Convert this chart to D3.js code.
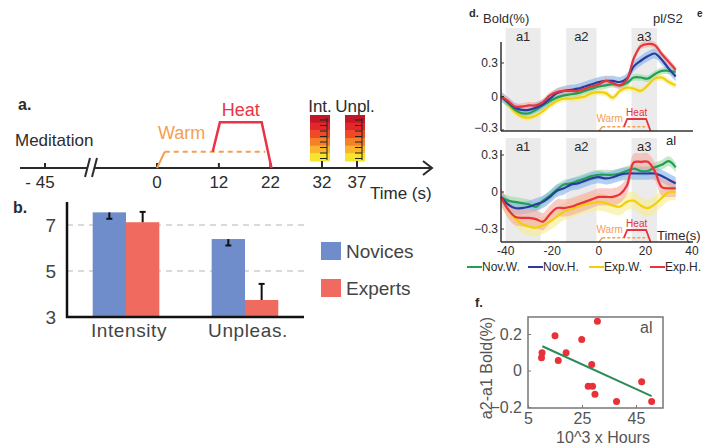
<!DOCTYPE html>
<html>
<head>
<meta charset="utf-8">
<script src="https://cdn.jsdelivr.net/npm/d3@7"></script>
<style>
body { margin: 0; background: #fff; }
svg { display: block; font-family: "Liberation Sans", Arial, sans-serif; }
</style>
</head>
<body>
<div id="chart"></div>
<script>
// ---- panel a: protocol timeline
const protoTicks = [-45, 0, 12, 22, 32, 37];
const protoTickLabels = ["- 45", "0", "12", "22", "32", "37"];
const warmT = [0, 1.5, 21];
const warmLevel = [0, 1, 1];
const heatT = [10.8, 12.2, 20.3, 22.2];
const heatLevel = [1, 2.8, 2.8, 0];
const ratingT = [32, 37];
const ratingNames = ["Int.", "Unpl."];
const ratingColors = ["#c01828", "#e4262b", "#ef4a25", "#f6802a", "#fab52d", "#f6e52b"];

// ---- panel b: ratings
const ratingCats = ["Intensity", "Unpleas."];
const groups = ["Novices", "Experts"];
const novicesMean = [7.55, 6.39];
const expertsMean = [7.12, 3.74];
const novicesErr = [0.28, 0.28];
const expertsErr = [0.45, 0.7];
const yTicksB = [3, 5, 7];

// ---- panel d: time courses (pl/S2 on top, al below)
const tSec = [-42, -39, -36, -33, -30, -27, -24, -21, -18, -15, -12, -9, -6, -3, 0, 3, 6, 9, 12, 15, 18, 21, 24, 27, 30, 33];
const seriesNames = ["Nov.W.", "Nov.H.", "Exp.W.", "Exp.H."];
const plNovW = [0, -0.06, -0.12, -0.15, -0.15, -0.12, -0.08, -0.04, -0.01, 0.01, 0.02, 0.03, 0.05, 0.07, 0.09, 0.1, 0.11, 0.1, 0.12, 0.17, 0.17, 0.16, 0.2, 0.23, 0.23, 0.22];
const plNovH = [0, -0.05, -0.1, -0.12, -0.12, -0.1, -0.07, -0.02, 0.03, 0.05, 0.06, 0.07, 0.09, 0.11, 0.13, 0.14, 0.14, 0.13, 0.16, 0.27, 0.32, 0.36, 0.385, 0.33, 0.25, 0.18];
const plExpW = [0, -0.07, -0.14, -0.18, -0.19, -0.17, -0.13, -0.08, -0.04, -0.02, -0.02, -0.01, 0, 0.03, 0.04, 0.03, -0.01, 0.05, 0.08, 0.07, 0.05, 0.1, 0.16, 0.17, 0.13, 0.1];
const plExpH = [0, -0.04, -0.09, -0.09, -0.08, -0.08, -0.05, 0.01, 0.04, 0.05, 0.05, 0.05, 0.07, 0.09, 0.11, 0.14, 0.12, 0.1, 0.15, 0.34, 0.45, 0.47, 0.46, 0.38, 0.31, 0.24];
const alNovW = [-0.04, -0.07, -0.08, -0.09, -0.1, -0.12, -0.07, -0.03, 0.02, 0.06, 0.07, 0.09, 0.11, 0.13, 0.14, 0.14, 0.14, 0.15, 0.17, 0.19, 0.17, 0.17, 0.2, 0.22, 0.25, 0.2];
const alNovH = [-0.04, -0.1, -0.13, -0.13, -0.12, -0.1, -0.08, -0.04, 0.01, 0.03, 0.06, 0.07, 0.09, 0.11, 0.12, 0.11, 0.12, 0.14, 0.15, 0.15, 0.15, 0.15, 0.15, 0.13, 0.1, 0.07];
const alExpW = [-0.04, -0.14, -0.21, -0.26, -0.28, -0.29, -0.27, -0.24, -0.2, -0.16, -0.14, -0.12, -0.1, -0.09, -0.08, -0.09, -0.11, -0.12, -0.08, -0.07, -0.11, -0.13, -0.1, -0.05, 0, 0];
const alExpH = [-0.04, -0.14, -0.2, -0.21, -0.21, -0.22, -0.24, -0.18, -0.13, -0.13, -0.12, -0.1, -0.08, -0.06, -0.04, -0.04, -0.04, -0.02, 0.05, 0.24, 0.245, 0.245, 0.17, 0.04, 0.03, 0.03];
const plBand = [0.03, 0.045, 0.03, 0.03];
const alBand = [0.04, 0.05, 0.07, 0.07];
const windowNames = ["a1", "a2", "a3"];
const windowStart = [-40, -14, 14];
const windowEnd = [-25, -1, 25];
const dYTicks = [-0.3, 0, 0.3];
const dXTicks = [-40, -20, 0, 20, 40];

// ---- panel f: correlation with practice hours
const hours = [10.2, 10, 15, 16.2, 19.1, 24.9, 28.6, 30.7, 27.3, 28.9, 29.8, 37.8, 47.1, 50.8];
const deltaBold = [0.097, 0.07, 0.19, 0.055, 0.097, 0.17, 0.033, 0.27, -0.086, -0.086, -0.13, -0.17, -0.062, -0.17];
const fitHours = [10.3, 50.8];
const fitBold = [0.133, -0.14];
const fXTicks = [5, 25, 45];
const fYTicks = [-0.2, 0, 0.2];

const lineColors = ["#22a052", "#2b3a9c", "#f2cf0a", "#e8323c"];
const bandColors = ["#9fd8a8", "#7fb3ea", "#f7ec8c", "#f4aaa2"];
const ink = "#2b2b2b";

const svg = d3.select("#chart").append("svg")
    .attr("width", 705)
    .attr("height", 448);
svg.append("rect").attr("width", 705).attr("height", 448).attr("fill", "#fff");

// =============== panel a
const xA = d3.scaleLinear().domain([-45, 0, 32, 37]).range([45, 157, 322, 357]);
const lvA = d3.scaleLinear().domain([0, 1]).range([168, 151.7]);
const gA = svg.append("g").attr("fill", ink);

gA.append("text").attr("x", 18).attr("y", 110).attr("font-size", 16).attr("font-weight", "bold").text("a.");
gA.append("text").attr("x", 15).attr("y", 146).attr("font-size", 17).text("Meditation");

// axis with a break
gA.append("line").attr("x1", 20).attr("x2", 87).attr("y1", 168).attr("y2", 168)
    .attr("stroke", ink).attr("stroke-width", 2);
gA.append("line").attr("x1", 94).attr("x2", 432).attr("y1", 168).attr("y2", 168)
    .attr("stroke", ink).attr("stroke-width", 2);
[[85, 90], [92, 97]].forEach(b => {
    gA.append("line").attr("x1", b[0]).attr("y1", 177).attr("x2", b[1]).attr("y2", 158)
        .attr("stroke", ink).attr("stroke-width", 2);
});
gA.append("path").attr("d", "M423,161L432,168L423,175")
    .attr("fill", "none").attr("stroke", ink).attr("stroke-width", 2);

protoTicks.forEach((t, i) => {
    gA.append("line").attr("x1", xA(t)).attr("x2", xA(t)).attr("y1", 163).attr("y2", 168)
        .attr("stroke", ink).attr("stroke-width", 2);
    gA.append("text").attr("x", xA(t) - (t < 0 ? 5 : 0)).attr("y", 188)
        .attr("text-anchor", "middle").attr("font-size", 17).text(protoTickLabels[i]);
});
gA.append("text").attr("x", 370).attr("y", 199).attr("font-size", 17).text("Time (s)");

// warm and heat stimuli
const warmPts = warmT.map((t, i) => [xA(t), lvA(warmLevel[i])]);
gA.append("path").attr("d", d3.line()(warmPts.slice(0, 2)))
    .attr("fill", "none").attr("stroke", "#f5a04f").attr("stroke-width", 2);
gA.append("path").attr("d", d3.line()(warmPts.slice(1)))
    .attr("fill", "none").attr("stroke", "#f5a04f").attr("stroke-width", 2).attr("stroke-dasharray", "5,4");
gA.append("path").attr("d", d3.line()(heatT.map((t, i) => [xA(t), lvA(heatLevel[i])])))
    .attr("fill", "none").attr("stroke", "#ea3346").attr("stroke-width", 2.5);
gA.append("text").attr("x", xA(0) + 1).attr("y", 139).attr("font-size", 18).attr("fill", "#f5a04f").text("Warm");
gA.append("text").attr("x", xA((heatT[1] + heatT[2]) / 2)).attr("y", 116).attr("text-anchor", "middle")
    .attr("font-size", 18).attr("fill", "#ea3346").text("Heat");

// rating scales
ratingT.forEach((t, i) => {
    const cx = xA(t), x0 = cx - 12, bh = 46 / ratingColors.length;
    ratingColors.forEach((c, j) => {
        gA.append("rect").attr("x", x0).attr("y", 115 + j * bh).attr("width", 20).attr("height", bh + 0.5).attr("fill", c);
    });
    gA.append("line").attr("x1", x0 + 17).attr("x2", x0 + 17).attr("y1", 118).attr("y2", 160)
        .attr("stroke", "#222").attr("stroke-width", 1);
    d3.range(8).forEach(k => {
        gA.append("line").attr("x1", x0 + 10).attr("x2", x0 + 17)
            .attr("y1", 120 + k * 5.5).attr("y2", 120 + k * 5.5)
            .attr("stroke", "#222").attr("stroke-width", 1);
    });
    gA.append("line").attr("x1", cx).attr("x2", cx).attr("y1", 161).attr("y2", 168)
        .attr("stroke", ink).attr("stroke-width", 2);
    gA.append("text").attr("x", x0 + 10).attr("y", 112).attr("text-anchor", "middle")
        .attr("font-size", 17).text(ratingNames[i]);
});

// =============== panel b
const yB = d3.scaleLinear().domain([3, 8]).range([317, 202]);
const x0B = d3.scaleBand().domain(ratingCats).range([67, 304]).paddingInner(0.44).paddingOuter(0.216);
const x1B = d3.scaleBand().domain(groups).range([0, x0B.bandwidth()]);
const barColors = {Novices: "#6f8ccb", Experts: "#f06a5f"};
const gB = svg.append("g");

gB.append("text").attr("x", 13).attr("y", 213).attr("font-size", 16).attr("font-weight", "bold").attr("fill", ink).text("b.");

yTicksB.filter(v => v > 3).forEach(v => {
    gB.append("line").attr("x1", 67).attr("x2", 304).attr("y1", yB(v)).attr("y2", yB(v))
        .attr("stroke", "#b5b5b5").attr("stroke-width", 1.2).attr("stroke-dasharray", "6,5");
});

const barData = [];
ratingCats.forEach((c, i) => {
    barData.push({cat: c, grp: "Novices", v: novicesMean[i], e: novicesErr[i], dir: -1});
    barData.push({cat: c, grp: "Experts", v: expertsMean[i], e: expertsErr[i], dir: 1});
});
gB.selectAll("rect.bar").data(barData).enter().append("rect")
    .attr("class", "bar")
    .attr("x", d => x0B(d.cat) + x1B(d.grp))
    .attr("y", d => yB(d.v))
    .attr("width", x1B.bandwidth())
    .attr("height", d => yB(3) - yB(d.v))
    .attr("fill", d => barColors[d.grp]);

barData.forEach(d => {
    const cx = x0B(d.cat) + x1B(d.grp) + x1B.bandwidth() / 2;
    const yEnd = yB(d.v + d.dir * d.e);
    gB.append("line").attr("x1", cx).attr("x2", cx).attr("y1", yB(d.v)).attr("y2", yEnd)
        .attr("stroke", "#111").attr("stroke-width", 2);
    gB.append("line").attr("x1", cx - 3).attr("x2", cx + 3).attr("y1", yEnd).attr("y2", yEnd)
        .attr("stroke", "#111").attr("stroke-width", 2);
});

gB.append("line").attr("x1", 67).attr("x2", 67).attr("y1", 202).attr("y2", 318)
    .attr("stroke", "#111").attr("stroke-width", 2.5);
gB.append("line").attr("x1", 66).attr("x2", 304).attr("y1", 317).attr("y2", 317)
    .attr("stroke", "#111").attr("stroke-width", 2.5);

yTicksB.forEach(v => {
    gB.append("text").attr("x", 56).attr("y", yB(v)).attr("dy", "0.36em").attr("text-anchor", "end")
        .attr("font-size", 19).attr("fill", "#444").text(v);
});
ratingCats.forEach(c => {
    gB.append("text").attr("x", x0B(c) + x0B.bandwidth() / 2 + 3).attr("y", 337).attr("text-anchor", "middle")
        .attr("font-size", 19).attr("letter-spacing", 0.6).attr("fill", "#444").text(c);
});
groups.forEach((g, i) => {
    gB.append("rect").attr("x", 321).attr("y", 242 + i * 37).attr("width", 20).attr("height", 18).attr("fill", barColors[g]);
    gB.append("text").attr("x", 346).attr("y", 258 + i * 37).attr("font-size", 19).attr("fill", "#444").text(g);
});

// =============== panel d
const xD = d3.scaleLinear().domain([-42, 40]).range([501, 692]);
const gD = svg.append("g").attr("fill", ink);

gD.append("text").attr("x", 469).attr("y", 17).attr("font-size", 11).attr("font-weight", "bold").text("d.");
gD.append("text").attr("x", 483).attr("y", 23).attr("font-size", 13).text("Bold(%)");
gD.append("text").attr("x", 697).attr("y", 17).attr("font-size", 10).attr("font-weight", "bold").text("e");

function drawCourse(series, bands, yS, shadeTop, axisTop, base, name, nameY) {
    const g = gD.append("g");
    windowNames.forEach((w, i) => {
        g.append("rect").attr("x", xD(windowStart[i])).attr("y", shadeTop)
            .attr("width", xD(windowEnd[i]) - xD(windowStart[i])).attr("height", base - shadeTop)
            .attr("fill", "#ebebeb");
        g.append("text").attr("x", xD((windowStart[i] + windowEnd[i]) / 2)).attr("y", shadeTop + 13)
            .attr("text-anchor", "middle").attr("font-size", 13).text(w);
    });
    const order = [2, 0, 1, 3];
    order.forEach(k => {
        const area = d3.area()
            .x((d, i) => xD(tSec[i]))
            .y0(d => yS(d - bands[k]))
            .y1(d => yS(d + bands[k]))
            .curve(d3.curveCatmullRom.alpha(0.5));
        g.append("path").attr("d", area(series[k])).attr("fill", bandColors[k]).attr("fill-opacity", 0.6);
    });
    order.forEach(k => {
        const line = d3.line()
            .x((d, i) => xD(tSec[i]))
            .y(d => yS(d))
            .curve(d3.curveCatmullRom.alpha(0.5));
        g.append("path").attr("d", line(series[k])).attr("fill", "none")
            .attr("stroke", lineColors[k]).attr("stroke-width", 2.2);
    });

    // stimulus sketch
    const lv = d3.scaleLinear().domain([0, 2.8]).range([base, base - 12]);
    const wp = warmT.map((t, i) => [xD(t), lv(warmLevel[i])]);
    g.append("path").attr("d", d3.line()(wp.slice(0, 2))).attr("fill", "none").attr("stroke", "#f5a04f").attr("stroke-width", 1.5);
    g.append("path").attr("d", d3.line()(wp.slice(1))).attr("fill", "none").attr("stroke", "#f5a04f")
        .attr("stroke-width", 1.5).attr("stroke-dasharray", "3,2");
    g.append("path").attr("d", d3.line()(heatT.map((t, i) => [xD(t), lv(heatLevel[i])])))
        .attr("fill", "none").attr("stroke", "#e8323c").attr("stroke-width", 1.8);
    g.append("text").attr("x", xD(-1)).attr("y", base - 9).attr("font-size", 10).attr("fill", "#f5a04f").text("Warm");
    g.append("text").attr("x", xD((heatT[1] + heatT[2]) / 2)).attr("y", base - 15).attr("text-anchor", "middle")
        .attr("font-size", 10).attr("fill", "#e8323c").text("Heat");

    // axes
    g.append("line").attr("x1", 501).attr("x2", 501).attr("y1", axisTop).attr("y2", base)
        .attr("stroke", "#333").attr("stroke-width", 1.5);
    g.append("line").attr("x1", 501).attr("x2", 693).attr("y1", base).attr("y2", base)
        .attr("stroke", "#333").attr("stroke-width", 1.5);
    dYTicks.forEach(v => {
        g.append("line").attr("x1", 501).attr("x2", 504).attr("y1", yS(v)).attr("y2", yS(v))
            .attr("stroke", "#333").attr("stroke-width", 1);
        g.append("text").attr("x", 498).attr("y", Math.min(yS(v), base - 3)).attr("dy", "0.35em")
            .attr("text-anchor", "end").attr("font-size", 12).text(v === 0 ? "0" : d3.format(".1f")(v));
    });
    g.append("text").attr("x", name === "pl/S2" ? 653 : 666).attr("y", nameY).attr("font-size", 13).text(name);
    return g;
}

const yPl = d3.scaleLinear().domain([-0.3, 0.3]).range([130, 63]);
const yAl = d3.scaleLinear().domain([-0.3, 0.3]).range([229, 155]);
drawCourse([plNovW, plNovH, plExpW, plExpH], plBand, yPl, 28, 42, 131, "pl/S2", 23);
drawCourse([alNovW, alNovH, alExpW, alExpH], alBand, yAl, 138, 150, 242, "al", 145);

dXTicks.forEach(t => {
    gD.append("text").attr("x", xD(t)).attr("y", 255).attr("text-anchor", "middle").attr("font-size", 12).text(t);
});
gD.append("text").attr("x", 657).attr("y", 240).attr("font-size", 13).text("Time(s)");

seriesNames.forEach((s, i) => {
    const lx = 467 + i * 61;
    gD.append("line").attr("x1", lx).attr("x2", lx + 15).attr("y1", 267).attr("y2", 267)
        .attr("stroke", lineColors[i]).attr("stroke-width", 2);
    gD.append("text").attr("x", lx + 15).attr("y", 271).attr("font-size", 12).text(s);
});

// =============== panel f
const xF = d3.scaleLinear().domain([5, 55]).range([528, 663]);
const yF = d3.scaleLinear().domain([-0.205, 0.293]).range([408, 317]);
const gF = svg.append("g");

gF.append("text").attr("x", 475).attr("y", 307).attr("font-size", 13).attr("font-weight", "bold").attr("fill", ink).text("f.");
gF.append("rect").attr("x", xF(5)).attr("y", yF(0.293)).attr("width", xF(55) - xF(5)).attr("height", yF(-0.205) - yF(0.293))
    .attr("fill", "none").attr("stroke", "#777").attr("stroke-width", 1.5);

gF.append("g").attr("transform", `translate(${xF(5)},0)`)
    .call(d3.axisLeft(yF).tickValues(fYTicks).tickSizeInner(-3).tickSizeOuter(0).tickPadding(6)
        .tickFormat(v => v === 0 ? "0" : d3.format(".1f")(v)))
    .call(a => a.select(".domain").remove())
    .call(a => a.selectAll("line").attr("stroke", "#777"))
    .call(a => a.selectAll("text").attr("font-size", 16).attr("fill", "#555").attr("font-family", null));
gF.append("g").attr("transform", `translate(0,${yF(-0.205)})`)
    .call(d3.axisBottom(xF).tickValues(fXTicks).tickSizeInner(-3).tickSizeOuter(0).tickPadding(5))
    .call(a => a.select(".domain").remove())
    .call(a => a.selectAll("line").attr("stroke", "#777"))
    .call(a => a.selectAll("text").attr("font-size", 16).attr("fill", "#555").attr("font-family", null));

gF.selectAll("circle").data(hours).enter().append("circle")
    .attr("cx", d => xF(d))
    .attr("cy", (d, i) => yF(deltaBold[i]))
    .attr("r", 3.5)
    .attr("fill", "#e8323a");
gF.append("path").attr("d", d3.line()(fitHours.map((h, i) => [xF(h), yF(fitBold[i])])))
    .attr("stroke", "#2e8b57").attr("stroke-width", 2).attr("fill", "none");

gF.append("text").attr("x", 640).attr("y", 333).attr("font-size", 16).attr("fill", "#555").text("al");
gF.append("text").attr("transform", "translate(492,368) rotate(-90)").attr("text-anchor", "middle")
    .attr("font-size", 16).attr("fill", "#555").text("a2-a1 Bold(%)");
gF.append("text").attr("x", 603).attr("y", 443).attr("text-anchor", "middle")
    .attr("font-size", 16).attr("fill", "#555").text("10^3 x Hours");
</script>
</body>
</html>
